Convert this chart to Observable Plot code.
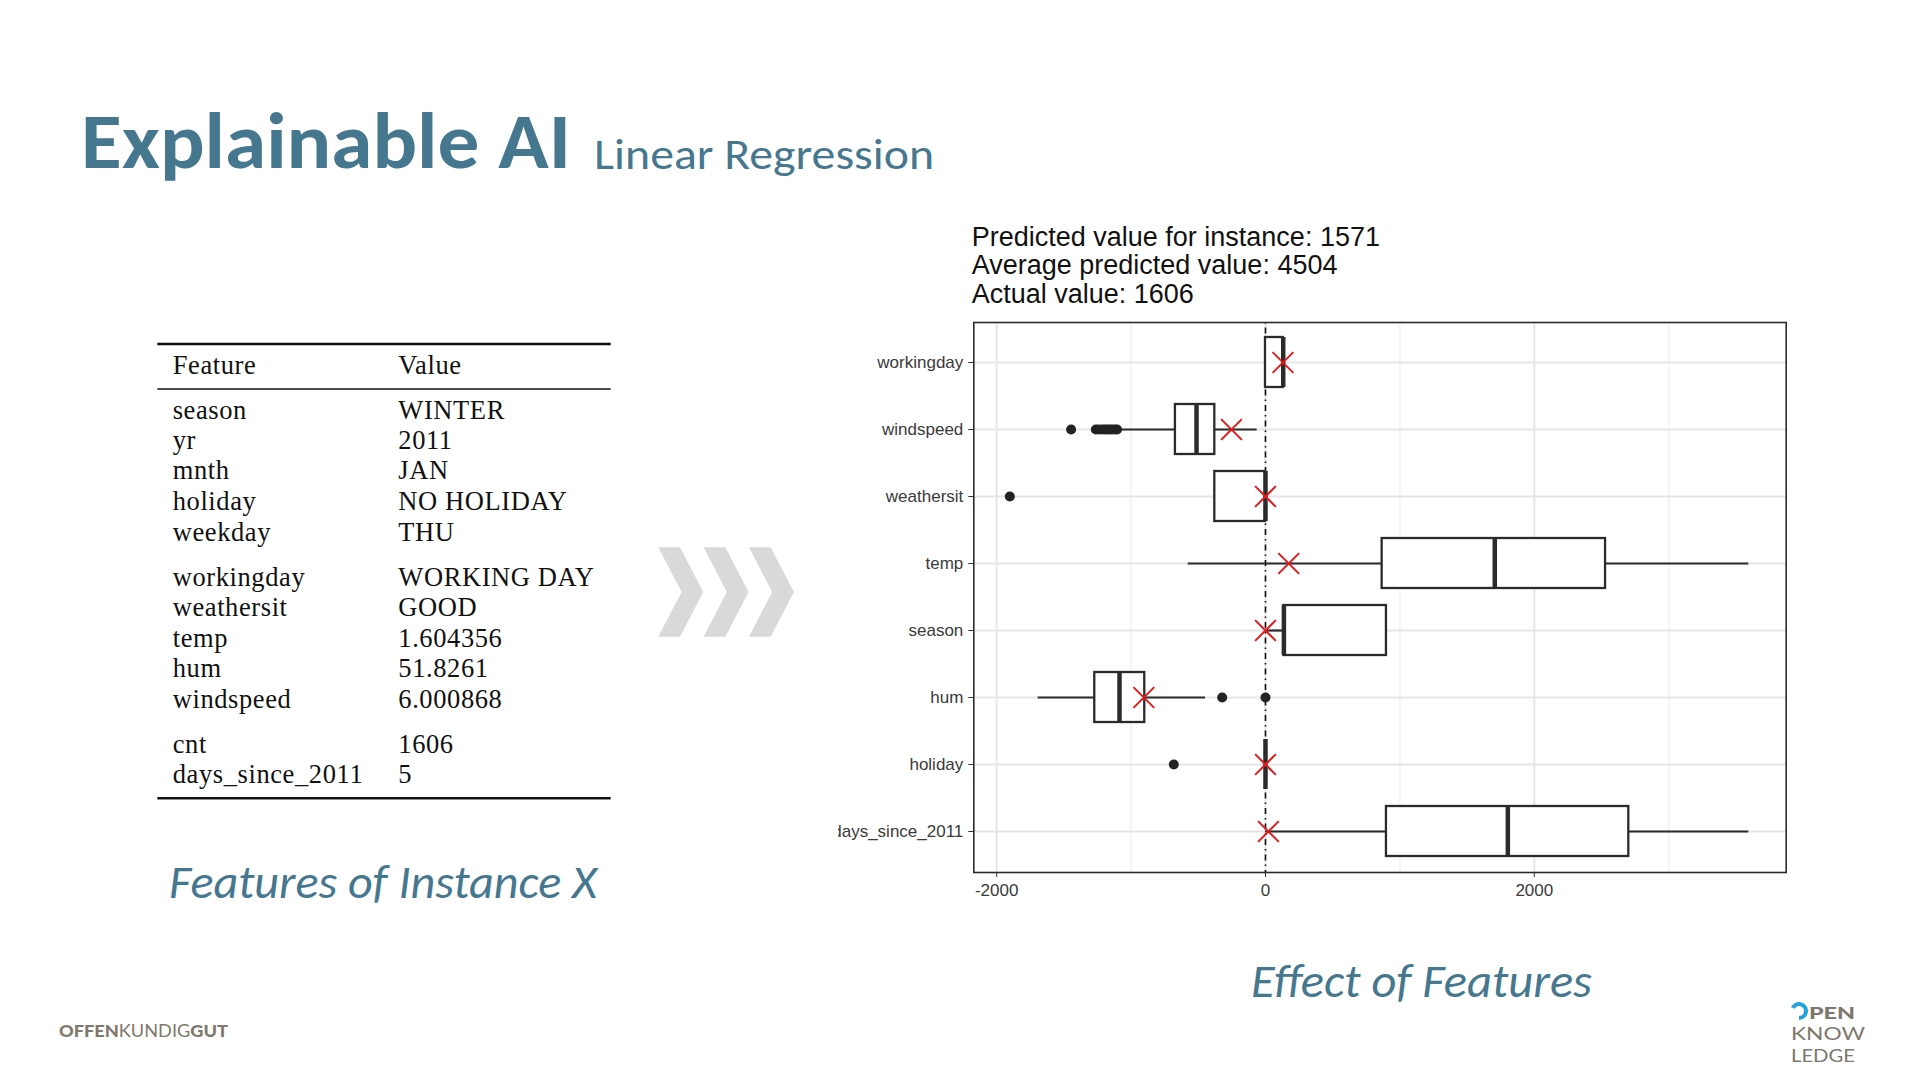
<!DOCTYPE html>
<html><head><meta charset="utf-8">
<script src="https://cdn.jsdelivr.net/npm/d3@7"></script>
<script src="https://cdn.jsdelivr.net/npm/@observablehq/plot@0.6"></script>
<style>
html,body{margin:0;padding:0;background:#fff;}
#slide{position:relative;width:1920px;height:1080px;overflow:hidden;background:#fff;}
#deco{position:absolute;left:0;top:0;}
#chartTitle{position:absolute;left:971.7px;top:223px;font-family:"Liberation Sans",Arial,Helvetica,sans-serif;font-size:27px;line-height:28.3px;color:#111;white-space:nowrap;}
#chartWrap{position:absolute;left:838px;top:315px;width:962px;height:597px;overflow:hidden;}
</style></head>
<body><div id="slide">
<svg id="deco" width="1920" height="1080" xmlns="http://www.w3.org/2000/svg"></svg>
<div id="chartTitle"></div>
<div id="chartWrap"></div>
</div>
<script>
// ---------- data ----------
const titleLines = ["Predicted value for instance: 1571", "Average predicted value: 4504", "Actual value: 1606"];
const features = ["workingday", "windspeed", "weathersit", "temp", "season", "hum", "holiday", "days_since_2011"];
const whiskerLow  = [0,    -1080, -377,  -575, 0,    -1691, 0, 0];
const q1          = [0,    -670,  -377,   868, 137,  -1270, 0, 900];
const median      = [132,  -513,     0,  1706, 137,  -1086, 0, 1803];
const q3          = [132,  -377,     0,  2530, 900,   -898, 0, 2703];
const whiskerHigh = [132,   -62,     0,  3596, 900,   -446, 0, 3596];
const instanceEffect = [130, -253, 0, 173, 0, -905, 0, 22];
const outlierFeature = ["windspeed","windspeed","windspeed","windspeed","windspeed","windspeed","windspeed","windspeed","windspeed","windspeed","weathersit","hum","hum","holiday"];
const outlierValue   = [-1446, -1262, -1240, -1215, -1195, -1178, -1160, -1141, -1120, -1104, -1902, -322, 0, -682];
const xTicks = [-2000, 0, 2000];
const xMinorTicks = [-1000, 1000, 3000];

const tableHeader = ["Feature", "Value"];
const tableFeatures = ["season","yr","mnth","holiday","weekday","workingday","weathersit","temp","hum","windspeed","cnt","days_since_2011"];
const tableValues = ["WINTER","2011","JAN","NO HOLIDAY","THU","WORKING DAY","GOOD","1.604356","51.8261","6.000868","1606","5"];

// ---------- chart title ----------
document.getElementById("chartTitle").innerHTML = titleLines.join("<br>");

// ---------- chart ----------
const rows = features.map((f, i) => ({feature: f, lo: whiskerLow[i], q1: q1[i], med: median[i], q3: q3[i], hi: whiskerHigh[i], inst: instanceEffect[i]}));
const outliers = outlierFeature.map((f, i) => ({feature: f, value: outlierValue[i]}));

const chart = Plot.plot({
  width: 962, height: 597,
  marginLeft: 135.3, marginRight: 14.3, marginTop: 7, marginBottom: 40,
  style: {fontFamily: '"Liberation Sans", Arial, Helvetica, sans-serif', fontSize: "17px", color: "#3a3a3a", background: "white"},
  x: {domain: [-2170, 3874]},
  y: {type: "band", domain: features, paddingInner: 0.25, paddingOuter: 0.225},
  marks: [
    Plot.gridX({ticks: xMinorTicks, stroke: "#ebebeb", strokeOpacity: 1, strokeWidth: 1}),
    Plot.gridX({ticks: xTicks, stroke: "#e6e6e6", strokeOpacity: 1, strokeWidth: 2}),
    Plot.gridY({stroke: "#e6e6e6", strokeOpacity: 1, strokeWidth: 2}),
    Plot.ruleX([0], {stroke: "#111", strokeWidth: 1.6, strokeDasharray: "1.5,4,6,4"}),
    Plot.ruleY(rows, {y: "feature", x1: "lo", x2: "q1", stroke: "#2b2b2b", strokeWidth: 2.2}),
    Plot.ruleY(rows, {y: "feature", x1: "q3", x2: "hi", stroke: "#2b2b2b", strokeWidth: 2.2}),
    Plot.barX(rows, {y: "feature", x1: "q1", x2: "q3", fill: "white", stroke: "#2b2b2b", strokeWidth: 2.3}),
    Plot.tickX(rows, {y: "feature", x: "med", stroke: "#2b2b2b", strokeWidth: 4.5}),
    Plot.dot(outliers, {y: "feature", x: "value", r: 5, fill: "#222", stroke: "none"}),
    Plot.dot(rows, {y: "feature", x: "inst", symbol: "times", r: 9.5, stroke: "#e31a1c", strokeWidth: 2}),
    Plot.frame({stroke: "#2b2b2b", strokeWidth: 1.6}),
    Plot.axisX({ticks: xTicks, tickSize: 5, tickPadding: 6, stroke: "#333", fill: "#3a3a3a", label: null, tickFormat: d => String(d)}),
    Plot.axisY({tickSize: 5, tickPadding: 5.5, stroke: "#333", fill: "#3a3a3a", label: null})
  ]
});
document.getElementById("chartWrap").appendChild(chart);

// ---------- slide decoration ----------
const deco = d3.select("#deco");
const blue = "#45778f";
const calibri = "Carlito, Lato, 'Open Sans', sans-serif";

function text(x, y, s, o = {}) {
  const t = deco.append("text").attr("x", x).attr("y", y).text(s)
    .attr("font-family", o.family || calibri)
    .attr("font-size", o.size || 20)
    .attr("font-weight", o.weight || 400)
    .attr("font-style", o.style || "normal")
    .attr("fill", o.fill || "#000");
  if (o.width) t.attr("textLength", o.width).attr("lengthAdjust", "spacingAndGlyphs");
  if (o.ls) t.attr("letter-spacing", o.ls);
  return t;
}

// Title
text(81, 167.5, "Explainable AI", {size: 79, weight: 700, fill: blue, width: 490});
text(594, 169, "Linear Regression", {size: 44, weight: 400, fill: blue, width: 340});

// Table
const serif = "'Liberation Serif', 'Times New Roman', serif";
deco.append("line").attr("x1", 157.3).attr("x2", 610.7).attr("y1", 344).attr("y2", 344).attr("stroke", "#111").attr("stroke-width", 2.3);
deco.append("line").attr("x1", 157.3).attr("x2", 610.7).attr("y1", 389).attr("y2", 389).attr("stroke", "#111").attr("stroke-width", 1.3);
deco.append("line").attr("x1", 157.3).attr("x2", 610.7).attr("y1", 798.3).attr("y2", 798.3).attr("stroke", "#111").attr("stroke-width", 2.4);
text(172.7, 374, tableHeader[0], {family: serif, size: 26.5, fill: "#111", ls: 0.6});
text(398.3, 374, tableHeader[1], {family: serif, size: 26.5, fill: "#111", ls: 0.6});
const rowBaselines = [419.3, 449, 479, 510, 541, 586, 616, 646.7, 677.3, 708.3, 753.3, 783.3];
tableFeatures.forEach((f, i) => {
  text(172.7, rowBaselines[i], f, {family: serif, size: 26.5, fill: "#111", ls: 0.6});
  text(398.3, rowBaselines[i], tableValues[i], {family: serif, size: 26.5, fill: "#111", ls: 0.6});
});

// Captions
text(169, 898, "Features of Instance X", {size: 47, style: "italic", fill: blue, width: 428});
text(1251, 997, "Effect of Features", {size: 47, style: "italic", fill: blue, width: 341});

// Chevrons
const chevW = 21.7, chevDepth = 23.3, chevTop = 547.3, chevBot = 636.7, chevMid = 592;
[658.3, 703.6, 748.9].forEach(x0 => {
  deco.append("polygon")
    .attr("points", [[x0, chevTop], [x0 + chevW, chevTop], [x0 + chevW + chevDepth, chevMid], [x0 + chevW, chevBot], [x0, chevBot], [x0 + chevDepth, chevMid]].map(p => p.join(",")).join(" "))
    .attr("fill", "#d9d9d9");
});

// Footer logo left
const ok = deco.append("text").attr("x", 59).attr("y", 1037).attr("font-family", "Lato, 'Open Sans', sans-serif").attr("font-size", 16.5).attr("fill", "#7f786b")
  .attr("textLength", 169).attr("lengthAdjust", "spacingAndGlyphs");
ok.append("tspan").attr("font-weight", 900).text("OFFEN");
ok.append("tspan").attr("font-weight", 400).text("KUNDIG");
ok.append("tspan").attr("font-weight", 900).text("GUT");

// Footer logo right
deco.append("path").attr("d", d3.arc()({innerRadius: 5, outerRadius: 9, startAngle: -0.35 * Math.PI, endAngle: 1.0 * Math.PI}))
  .attr("transform", "translate(1799,1011)").attr("fill", "#1ea3dc");
text(1809, 1018.5, "PEN", {family: "Lato, sans-serif", size: 17.5, weight: 900, fill: "#7d776c", width: 46});
text(1791, 1040, "KNOW", {family: "Lato, sans-serif", size: 17.5, weight: 400, fill: "#7d776c", width: 74});
text(1791, 1061.5, "LEDGE", {family: "Lato, sans-serif", size: 17.5, weight: 400, fill: "#7d776c", width: 64});
</script>
</body></html>
